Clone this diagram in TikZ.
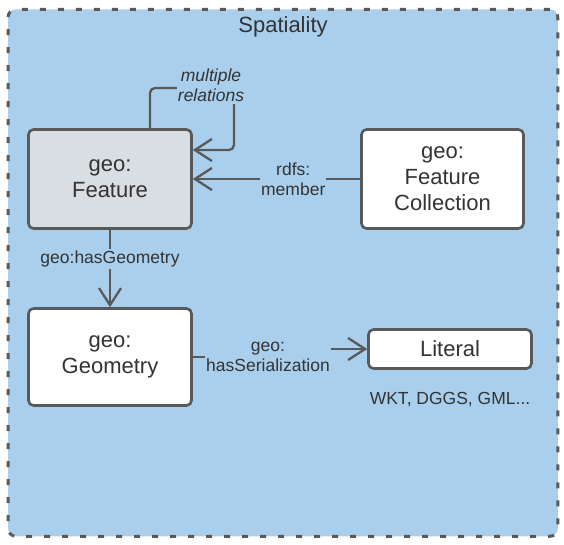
\documentclass[tikz,border=0pt]{standalone}
\usepackage{fontspec}
\setmainfont{Liberation Sans}
\usetikzlibrary{arrows.meta,calc}
\definecolor{bgblue}{HTML}{A9CFEC}
\definecolor{linegray}{HTML}{595959}
\definecolor{txtgray}{HTML}{333333}
\definecolor{featgray}{HTML}{D9DEE3}
\begin{document}
\begin{tikzpicture}[x=1pt,y=-1pt,
  frame/.style={draw=linegray, line width=3pt, dash pattern=on 6pt off 12pt, rounded corners=8pt, fill=bgblue, inner sep=0pt},
  box/.style={draw=linegray, line width=2.6pt, rounded corners=5pt, fill=white, text=txtgray, font=\fontsize{22}{26}\selectfont, align=center, inner sep=0pt},
  lbl/.style={fill=bgblue, text=txtgray, font=\fontsize{17.5}{20}\selectfont, align=center, inner xsep=1pt, inner ysep=2pt},
  conn/.style={draw=linegray, line width=2.3pt},
  arr/.style={-{Straight Barb[length=17pt,width=22pt]}}
]
\useasboundingbox (0,0) rectangle (564,544);
\node[frame, minimum width=549.8pt, minimum height=527pt] (frame) at (282.9,272.8) {};
\node[text=txtgray, font=\fontsize{22}{26}\selectfont, anchor=base] (title) at (283,32) {Spatiality};

\node[box, fill=featgray, minimum width=163pt, minimum height=99pt] (feat) at (110,179) {geo:\\Feature};
\node[box, minimum width=162pt, minimum height=99pt] (fc) at (442.5,179) {geo:\\Feature\\Collection};
\node[box, minimum width=163pt, minimum height=97pt] (geom) at (110,357) {geo:\\Geometry};
\node[box, minimum width=163pt, minimum height=39pt] (lit) at (450,349) {Literal};
\node[text=txtgray, font=\fontsize{17.5}{20}\selectfont, anchor=base] (wkt) at (450,404) {WKT, DGGS, GML...};

% multiple relations (self loop)
\draw[conn, arr, rounded corners=5pt] ($(feat.north)+(40,0)$) |- (234,88) -- (234,150) -- ($(feat.east)+(0,-29)$);
\node[lbl, font=\fontsize{17.5}{20}\selectfont\itshape] (mr) at (211,85.5) {multiple\\relations};

% rdfs:member
\draw[conn, arr] (fc.west) -- node[lbl, pos=0.4] (rm) {rdfs:\\member} (feat.east);

% geo:hasGeometry
\draw[conn, arr] (feat.south) -- node[lbl, pos=0.38] (hg) {geo:hasGeometry} (geom.north);

% geo:hasSerialization
\draw[conn, arr] (geom.east) -- ++(76,0) |- (lit.west);
\node[lbl] (hs) at (268,356.5) {geo:\\hasSerialization};
\end{tikzpicture}
\end{document}
